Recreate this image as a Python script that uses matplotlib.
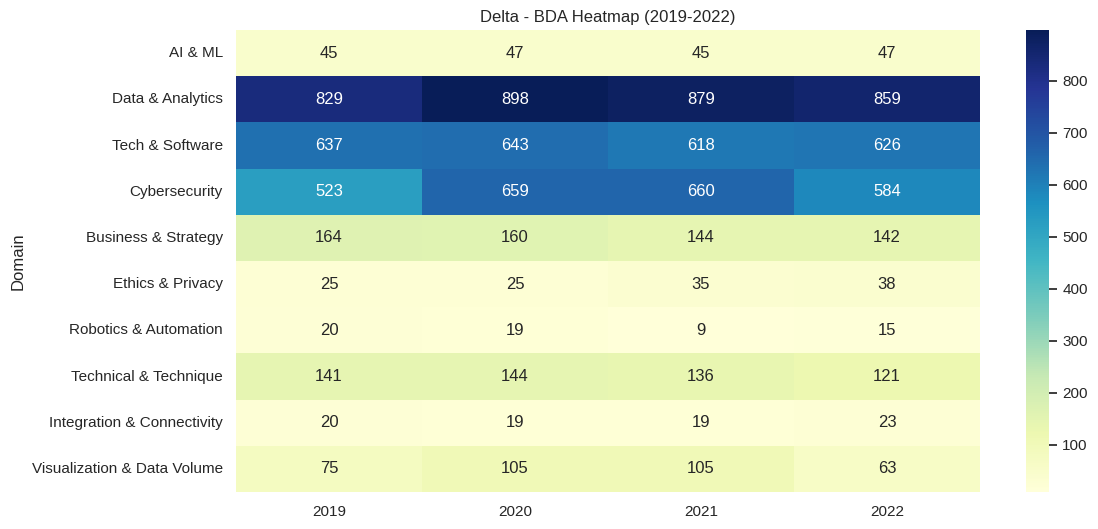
import numpy as np
import pandas as pd
import matplotlib
matplotlib.use("Agg")
import matplotlib.pyplot as plt
import seaborn as sns

# =========================
# Data
# =========================
domains = [
    "AI & ML",
    "Data & Analytics",
    "Tech & Software",
    "Cybersecurity",
    "Business & Strategy",
    "Ethics & Privacy",
    "Robotics & Automation",
    "Technical & Technique",
    "Integration & Connectivity",
    "Visualization & Data Volume",
]
years = ["2019", "2020", "2021", "2022"]

v2019 = [45, 829, 637, 523, 164, 25, 20, 141, 20, 75]
v2020 = [47, 898, 643, 659, 160, 25, 19, 144, 19, 105]
v2021 = [45, 879, 618, 660, 144, 35, 9, 136, 19, 105]
v2022 = [47, 859, 626, 584, 142, 38, 15, 121, 23, 63]

df = pd.DataFrame(dict(zip(years, [v2019, v2020, v2021, v2022])), index=domains)
df.index.name = "Domain"

# =========================
# Plot
# =========================
sns.set_theme()
plt.rcParams["font.family"] = ["Liberation Sans", "DejaVu Sans"]

W, H = 1098, 529
fig = plt.figure(figsize=(W / 100, H / 100), dpi=100)
ax = fig.add_axes([236 / W, (H - 492) / H, 744 / W, 462 / H])
cax = fig.add_axes([1026 / W, (H - 492) / H, 23 / W, 462 / H])

sns.heatmap(df, annot=True, fmt="d", cmap="YlGnBu", ax=ax, cbar_ax=cax)
ax.set_title("Delta - BDA Heatmap (2019-2022)")
ax.set_ylabel("Domain")
ax.set_xlabel("")

fig.savefig("out.png", dpi=100)
